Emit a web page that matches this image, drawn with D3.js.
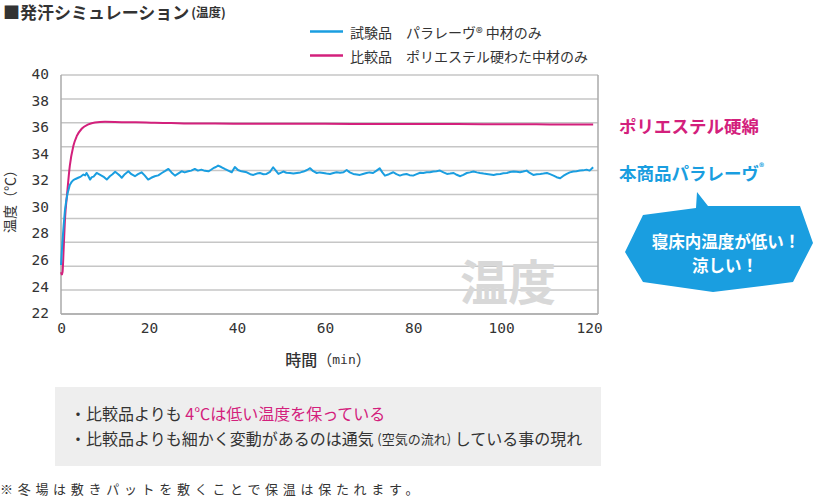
<!DOCTYPE html>
<html><head><meta charset="utf-8">
<script src="https://cdn.jsdelivr.net/npm/d3@7"></script>
<style>
body{margin:0;background:#fff;}
svg{display:block;}
</style></head>
<body>
<svg id="c" width="814" height="496"></svg>
<script>
// ---- data ----
const blueTime = [0,0.3,0.6,0.9,1.2,1.5,2.0,2.4,2.8,3.3,3.9,4.5,5.1,5.5,5.8,6.2,6.6,7.0,7.4,8.1,8.6,9.2,9.8,10.4,11.1,11.7,12.3,12.8,13.3,13.8,14.5,15.3,16.0,16.8,17.5,18.3,19.0,19.8,20.5,21.3,22.1,22.9,23.6,24.4,25.1,25.9,26.6,27.4,28.1,28.9,29.6,30.4,31.1,31.9,32.7,33.5,34.0,34.6,35.2,35.7,36.4,37.2,38.0,38.8,39.5,40.2,41.0,42.2,43.0,43.7,44.5,45.2,46.0,46.7,47.5,48.2,48.8,49.4,50.5,51.2,52.0,52.8,53.6,54.4,55.1,55.9,56.6,57.3,58.1,58.8,59.6,60.3,61.1,61.9,62.6,63.4,64.2,64.9,65.6,66.4,67.2,67.9,68.6,69.4,70.1,70.9,71.7,72.4,73.0,73.6,74.5,75.5,76.2,77.0,77.8,78.5,79.2,80.0,80.8,81.6,82.3,83.1,83.8,84.6,85.3,86.1,86.9,87.7,88.4,89.2,89.9,90.7,91.4,92.2,92.9,93.7,94.5,95.2,96.0,96.7,97.5,98.3,99.0,99.8,100.5,101.3,102.0,102.8,103.5,104.3,105.0,105.8,106.5,107.3,108.1,108.9,109.6,110.4,111.1,111.9,112.6,113.4,114.1,114.9,115.6,116.4,117.1,117.9,118.6,119.4,120.1,120.9];
const blueTemp = [24.1,25.9,27.4,28.7,29.5,30.1,30.8,31.05,31.2,31.3,31.4,31.5,31.67,31.6,31.8,31.55,31.25,31.45,31.5,31.8,31.7,31.58,31.45,31.25,31.53,31.7,31.9,31.75,31.6,31.4,31.7,31.94,31.7,31.53,31.7,31.86,31.6,31.25,31.4,31.53,31.6,31.8,31.95,32.14,31.85,31.58,31.75,31.94,31.85,31.94,32.0,32.14,32.0,32.08,31.98,31.94,32.05,32.2,32.3,32.42,32.3,32.14,32.0,31.86,32.3,32.05,31.94,31.86,31.7,31.64,31.75,31.8,31.7,31.72,31.9,32.28,32.0,31.72,31.92,31.82,31.8,31.75,31.8,31.85,31.92,32.05,32.2,31.95,31.8,31.85,31.8,31.75,31.72,31.8,31.86,31.82,31.86,32.05,31.85,31.72,31.68,31.64,31.72,31.8,31.85,31.8,32.0,32.2,31.85,31.58,31.7,31.86,31.7,31.58,31.68,31.72,31.62,31.58,31.7,31.82,31.8,31.86,31.86,31.92,31.95,32.0,31.85,31.72,31.75,31.8,31.65,31.53,31.65,31.8,31.85,31.92,31.85,31.8,31.75,31.72,31.68,31.64,31.7,31.72,31.78,31.8,31.88,31.92,31.9,31.86,31.92,32.0,31.8,31.64,31.7,31.72,31.75,31.8,31.7,31.58,31.45,31.36,31.55,31.72,31.85,31.92,31.95,32.0,32.02,32.08,32.0,32.28];
const pinkTime = [0,0.2,0.35,0.6,0.9,1.4,2.0,2.8,3.6,4.7,6.2,7.7,10,13.8,17,21.3,25,28.9,35,41.8,48,54.3,60,66,72,78,84,90,96,102,108,114,120.9];
const pinkTemp = [23.5,23.3,23.5,25.4,27.9,30.1,32.4,34.05,34.9,35.5,35.86,36.03,36.08,36.05,36.04,36.0,35.98,35.95,35.94,35.92,35.93,35.93,35.92,35.9,35.91,35.9,35.9,35.89,35.88,35.87,35.87,35.86,35.86];
const gridValues = [20,22,24,26,28,30,32,34,36,38,40];
const yTickLabels = [22,24,26,28,30,32,34,36,38,40];
const xTickLabels = [0,20,40,60,80,100,120];
const legendLabels = ["試験品　パラレーヴ® 中材のみ","比較品　ポリエステル硬わた中材のみ"];

const BLUE = "#1a9ee0", PINK = "#d3207c", TXT = "#333";
const JP = "'Noto Sans CJK JP','Noto Sans',sans-serif";
const MONO = "'DejaVu Sans Mono',monospace";

const svg = d3.select("#c");

// scales
const x = d3.scaleLinear().domain([0,122]).range([61,598]);
const y = d3.scaleLinear().domain([20,40]).range([314,75]);
const yLab = d3.scaleLinear().domain([22,40]).range([313,74]);

// title
const title = svg.append("text").attr("x",3).attr("y",11).attr("dominant-baseline","central")
  .attr("font-family",JP).attr("font-weight","bold").attr("fill",TXT);
title.append("tspan").attr("font-size",17).text("■発汗シミュレーション");
title.append("tspan").attr("font-size",12.5).attr("dx",2).text("(温度)");

// legend
const legColors = [BLUE,PINK];
legendLabels.forEach((t,i)=>{
  const ly = 31.5 + i*24;
  svg.append("line").attr("x1",310).attr("x2",343).attr("y1",ly).attr("y2",ly)
    .attr("stroke",legColors[i]).attr("stroke-width",2.5);
  svg.append("text").attr("x",350).attr("y",ly).attr("dominant-baseline","central")
    .attr("font-family",JP).attr("font-size",14).attr("fill",TXT).text(t);
});

// gridlines
svg.append("g").selectAll("line").data(gridValues).join("line")
  .attr("x1",61).attr("x2",598).attr("y1",d=>y(d)).attr("y2",d=>y(d))
  .attr("stroke","#c6c6c6").attr("stroke-width",1.5);
// plot frame sides
svg.append("line").attr("x1",61).attr("x2",61).attr("y1",75).attr("y2",314).attr("stroke","#aaa").attr("stroke-width",1.5);
svg.append("line").attr("x1",598).attr("x2",598).attr("y1",75).attr("y2",314).attr("stroke","#aaa").attr("stroke-width",1.5);
svg.append("line").attr("x1",61).attr("x2",598).attr("y1",314).attr("y2",314).attr("stroke","#aaa").attr("stroke-width",1.5);

// watermark
svg.append("text").attr("x",508).attr("y",279).attr("text-anchor","middle").attr("dominant-baseline","central")
  .attr("font-family",JP).attr("font-weight","bold").attr("font-size",48).attr("fill","#d8d8d8").text("温度");

// y axis labels
const yAx = svg.append("g").attr("transform","translate(49,0)")
  .call(d3.axisLeft(yLab).tickValues(yTickLabels).tickSize(0).tickPadding(0));
yAx.select(".domain").remove();
yAx.selectAll("text").attr("font-family",MONO).attr("font-size",14.5).attr("fill",TXT);

// x axis labels
const xAx = svg.append("g").attr("transform","translate(0,323)")
  .call(d3.axisBottom(x).tickValues(xTickLabels).tickSize(0).tickPadding(0));
xAx.select(".domain").remove();
xAx.selectAll("text").attr("font-family",MONO).attr("font-size",14.5).attr("fill",TXT);

// axis titles
const xt = svg.append("text").attr("x",328).attr("y",359).attr("text-anchor","middle").attr("dominant-baseline","central").attr("fill",TXT);
xt.append("tspan").attr("font-family",JP).attr("font-size",16).attr("font-weight",500).text("時間");
xt.append("tspan").attr("font-family",JP).attr("font-size",15).text("（");
xt.append("tspan").attr("font-family",MONO).attr("font-size",13).text("min");
xt.append("tspan").attr("font-family",JP).attr("font-size",15).text("）");

svg.append("text").attr("transform","translate(9,198) rotate(-90)").attr("text-anchor","middle")
  .attr("dominant-baseline","central").attr("font-family",JP).attr("font-size",14).attr("fill",TXT).text("温度（℃）");

// lines
svg.append("path").datum(d3.zip(pinkTime,pinkTemp))
  .attr("d",d3.line().x(d=>x(d[0])).y(d=>y(d[1])).curve(d3.curveMonotoneX))
  .attr("fill","none").attr("stroke",PINK).attr("stroke-width",2);
svg.append("path").datum(d3.zip(blueTime,blueTemp))
  .attr("d",d3.line().x(d=>x(d[0])).y(d=>y(d[1])))
  .attr("fill","none").attr("stroke",BLUE).attr("stroke-width",2).attr("stroke-linejoin","round");

// side annotations
svg.append("text").attr("x",619).attr("y",125).attr("dominant-baseline","central")
  .attr("font-family",JP).attr("font-weight","bold").attr("font-size",17.5).attr("fill",PINK).text("ポリエステル硬綿");
const an2 = svg.append("text").attr("x",619).attr("y",172).attr("dominant-baseline","central")
  .attr("font-family",JP).attr("font-weight","bold").attr("font-size",17.5).attr("fill",BLUE);
an2.append("tspan").text("本商品パラレーヴ");
an2.append("tspan").attr("font-size",10).attr("dy",-6).text("®");

// speech bubble
const bubble = [[643,215],[696,208],[697,192],[708,206],[800,206],[813,243],[793,282],[713,292],[643,282],[625,252]];
svg.append("path").attr("d",d3.line()(bubble)+"Z").attr("fill","#1a9ee0");
svg.append("text").attr("x",726).attr("y",241).attr("text-anchor","middle").attr("dominant-baseline","central")
  .attr("font-family",JP).attr("font-weight","bold").attr("font-size",16.5).attr("fill","#fff").text("寝床内温度が低い！");
svg.append("text").attr("x",725).attr("y",265).attr("text-anchor","middle").attr("dominant-baseline","central")
  .attr("font-family",JP).attr("font-weight","bold").attr("font-size",16.5).attr("fill","#fff").text("涼しい！");

// note box
svg.append("rect").attr("x",55).attr("y",387).attr("width",546).attr("height",79).attr("fill","#eeeeee");
const n1 = svg.append("text").attr("x",70).attr("y",413).attr("dominant-baseline","central")
  .attr("font-family",JP).attr("font-size",16).attr("fill",TXT);
n1.append("tspan").text("・比較品よりも ");
n1.append("tspan").attr("fill",PINK).text("4℃は低い温度を保っている");
const n2 = svg.append("text").attr("x",70).attr("y",438).attr("dominant-baseline","central")
  .attr("font-family",JP).attr("font-size",16).attr("fill",TXT);
n2.append("tspan").text("・比較品よりも細かく変動があるのは通気 ");
n2.append("tspan").attr("font-size",13).text("(空気の流れ)");
n2.append("tspan").text(" している事の現れ");

// footer
svg.append("text").attr("x",0).attr("y",488).attr("dominant-baseline","central")
  .attr("font-family",JP).attr("font-size",13).attr("letter-spacing",4.7).attr("fill",TXT)
  .text("※冬場は敷きパットを敷くことで保温は保たれます。");
</script>
</body></html>
